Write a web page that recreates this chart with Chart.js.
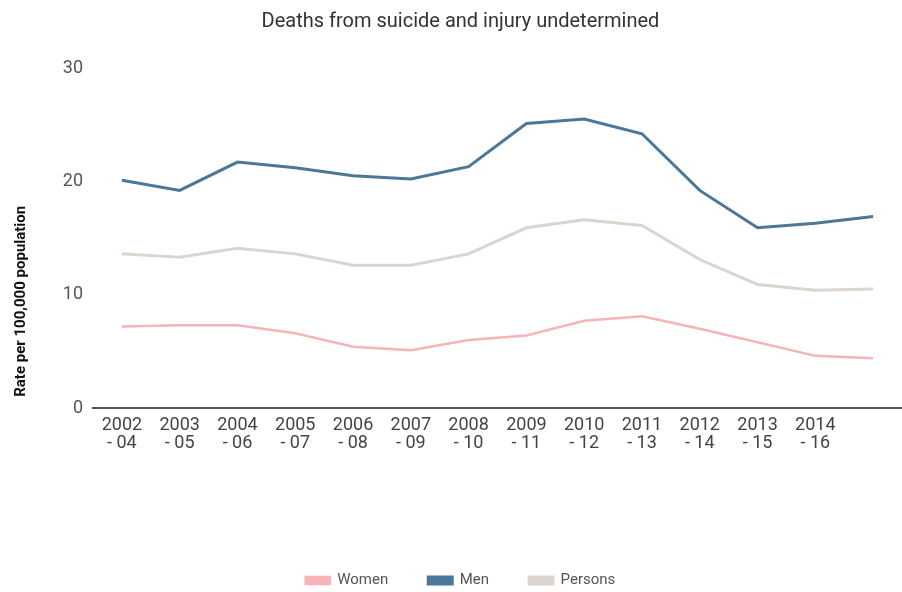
<!DOCTYPE html>
<html lang="en">
<head>
<meta charset="UTF-8">
<title>Deaths from suicide and injury undetermined</title>
<style>
  html, body { margin: 0; padding: 0; background: #fff; }
  #wrap { width: 902px; height: 592px; }
</style>
</head>
<body>
<div id="wrap"><canvas id="myChart"></canvas></div>

<script src="https://cdn.jsdelivr.net/npm/chart.js"></script>
<script>
// three-year periods, last one has no label in the original
const periods = [
  ['2002', '- 04'], ['2003', '- 05'], ['2004', '- 06'], ['2005', '- 07'],
  ['2006', '- 08'], ['2007', '- 09'], ['2008', '- 10'], ['2009', '- 11'],
  ['2010', '- 12'], ['2011', '- 13'], ['2012', '- 14'], ['2013', '- 15'],
  ['2014', '- 16'], ''
]
const women   = [7.2, 7.3, 7.3, 6.6, 5.4, 5.1, 6.0, 6.4, 7.7, 8.1, 7.0, 5.8, 4.6, 4.4]
const men     = [20.1, 19.2, 21.7, 21.2, 20.5, 20.2, 21.3, 25.1, 25.5, 24.2, 19.2, 15.9, 16.3, 16.9]
const persons = [13.6, 13.3, 14.1, 13.6, 12.6, 12.6, 13.6, 15.9, 16.6, 16.1, 13.1, 10.9, 10.4, 10.5]
const yTicks  = [0, 10, 20, 30]

const diagramCanvas = document.querySelector('#myChart')

new Chart(diagramCanvas, {
  type: 'line',
  data: {
    labels: periods,
    datasets: [
      { label: 'Women', data: women, borderColor: '#f7b4b8', backgroundColor: '#f7b4b8', borderWidth: 2.5 },
      { label: 'Men', data: men, borderColor: '#4b7798', backgroundColor: '#4b7798', borderWidth: 3 },
      { label: 'Persons', data: persons, borderColor: '#dcd5cf', backgroundColor: '#dcd5cf', borderWidth: 3 }
    ]
  },
  options: {
    responsive: true,
    maintainAspectRatio: false,
    animation: false,
    layout: { padding: { left: 12, right: -7, top: 0, bottom: -6 } },
    elements: { point: { radius: 0 }, line: { tension: 0 } },
    plugins: {
      title: {
        display: true,
        text: 'Deaths from suicide and injury undetermined',
        color: '#333',
        font: { family: 'Roboto', size: 20, weight: 'normal' },
        padding: { top: 10, bottom: 34 }
      },
      legend: {
        position: 'bottom',
        labels: { boxWidth: 24, boxHeight: 7, padding: 40, color: '#555', font: { family: 'Roboto', size: 15 } }
      },
      tooltip: { enabled: false }
    },
    scales: {
      x: {
        offset: true,
        grid: { display: false, drawTicks: false },
        border: { color: '#555', width: 2 },
        ticks: { color: '#444', font: { family: 'Roboto', size: 18, lineHeight: 1 }, padding: 8, maxRotation: 0, autoSkip: false },
        afterFit: axis => { axis.height = 125 }
      },
      y: {
        min: yTicks[0],
        max: yTicks[yTicks.length - 1],
        ticks: { stepSize: yTicks[1] - yTicks[0], color: '#555', font: { family: 'Roboto', size: 18 }, padding: 10 },
        grid: { display: false, drawTicks: false },
        border: { display: false },
        title: {
          display: true,
          text: '   Rate per 100,000 population',
          align: 'start',
          color: '#111',
          font: { family: 'Roboto', size: 15, weight: 'bold' },
          padding: 0
        },
        afterFit: axis => { axis.width = 81 }
      }
    }
  }
})
</script>
</body>
</html>
